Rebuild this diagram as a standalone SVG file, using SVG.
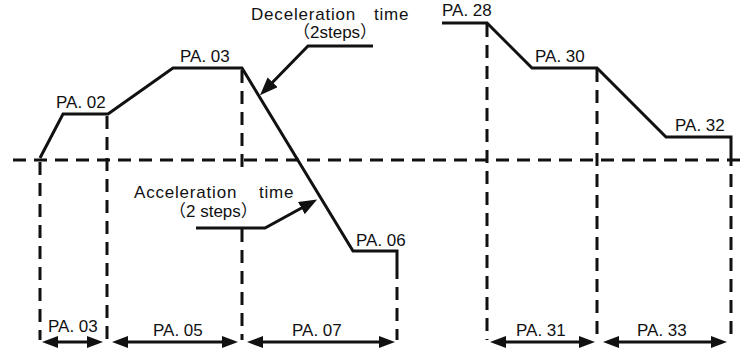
<svg xmlns="http://www.w3.org/2000/svg" width="747" height="354" viewBox="0 0 747 354">
<style>
.t{font-family:"Liberation Sans",Arial,"Noto Sans CJK SC",sans-serif;font-size:17px;fill:#111}
.w{letter-spacing:0.8px}
.solid{fill:none;stroke:#111;stroke-width:3;stroke-linejoin:miter}
.dash{fill:none;stroke:#111;stroke-width:3;stroke-dasharray:13 8}
.dim{fill:none;stroke:#111;stroke-width:3;marker-start:url(#ah);marker-end:url(#ah)}
.call{fill:none;stroke:#111;stroke-width:3;marker-end:url(#ah2)}
</style>
<defs>
<marker id="ah" viewBox="0 0 16 12" refX="6" refY="6" markerWidth="16" markerHeight="12" markerUnits="userSpaceOnUse" orient="auto-start-reverse"><path d="M0,0 L16,6 L0,12 Z" fill="#111"/></marker>
<marker id="ah2" viewBox="0 0 18 14" refX="8" refY="7" markerWidth="18" markerHeight="14" markerUnits="userSpaceOnUse" orient="auto"><path d="M0,0 L18,7 L0,14 Z" fill="#111"/></marker>
</defs>
<rect width="747" height="354" fill="#fff"/>
<g id="guides">
<path class="dash" d="M13,160 H742"/>
<path class="dash" d="M40,162 V340"/>
<path class="dash" d="M107,116 V340"/>
<path class="dash" d="M242,70 V168"/>
<path class="dash" d="M242,229 V340"/>
<path class="dash" d="M397,266 V340"/>
<path class="dash" d="M487,24 V340"/>
<path class="dash" d="M597,69 V340"/>
<path class="dash" d="M731,153 V340"/>
</g>
<g id="profile-left"><path class="solid" d="M40,158 L63,114 L108,114 L173,68 L242,68 L353,251 L397,251 L397,266"/></g>
<g id="profile-right"><path class="solid" d="M442,23 L487,23 L532,68 L597,68 L666,137 L731,137 L731,153"/></g>
<g id="connectors">
<path class="call" d="M373,46 L308,46 L267,88"/>
<path class="call" d="M196,228 L265,228 L308.4,204.2"/>
<path class="dim" d="M52,342 H93"/>
<path class="dim" d="M122,342 H228"/>
<path class="dim" d="M257,342 H385"/>
<path class="dim" d="M500,342 H585"/>
<path class="dim" d="M613,342 H717"/>
</g>
<g id="labels">
<text class="t w" y="20"><tspan x="251">Deceleration</tspan><tspan x="374">time</tspan></text>
<text class="t" x="293" y="38">（2steps）</text>
<text class="t w" y="198"><tspan x="134">Acceleration</tspan><tspan x="259">time</tspan></text>
<text class="t" x="169" y="217">（2 steps）</text>
<text class="t" x="56" y="108">PA. 02</text>
<text class="t" x="180" y="62">PA. 03</text>
<text class="t" x="356" y="246">PA. 06</text>
<text class="t" x="442" y="16">PA. 28</text>
<text class="t" x="535" y="62">PA. 30</text>
<text class="t" x="675" y="131">PA. 32</text>
<text class="t" x="48" y="332">PA. 03</text>
<text class="t" x="153" y="336">PA. 05</text>
<text class="t" x="292" y="336">PA. 07</text>
<text class="t" x="516" y="336">PA. 31</text>
<text class="t" x="637" y="336">PA. 33</text>
</g>
</svg>
